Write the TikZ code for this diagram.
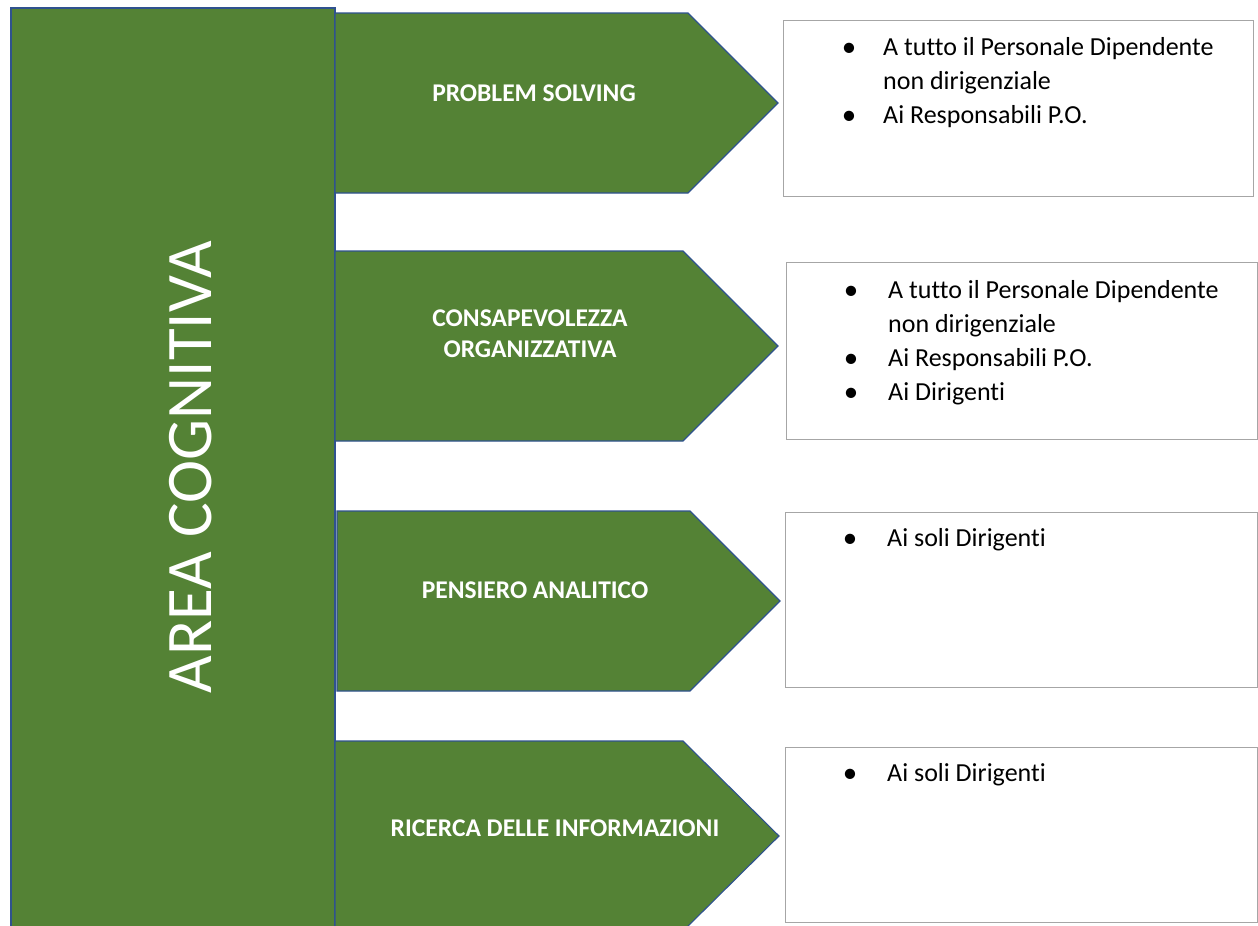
\documentclass[tikz,border=0pt]{standalone}
\usepackage{fontspec}
\setmainfont[Ligatures=NoCommon]{Carlito}
\definecolor{gfill}{HTML}{548235}
\definecolor{bline}{HTML}{2F528F}
\definecolor{gline}{HTML}{A6A6A6}
\begin{document}
\begin{tikzpicture}[x=1pt,y=-1pt,
  arrowshape/.style={fill=gfill, draw=bline, line width=1.1pt, line join=miter},
  listbox/.style={draw=gline, line width=1pt, fill=white, inner sep=0pt, anchor=north west},
  lbl/.style={text=white, font=\fontsize{25.5}{31}\selectfont\bfseries, inner sep=0pt, align=center},
  itm/.style={anchor=base west, inner sep=0pt, font=\fontsize{26}{31}\selectfont},
  dotm/.style={anchor=base, inner sep=0pt, font=\fontsize{29}{31}\selectfont}]
\useasboundingbox (0,0) rectangle (1258,926);
\clip (0,0) rectangle (1258,926);
\fill[white] (0,0) rectangle (1258,926);
% left column
\draw[fill=gfill, draw=bline, line width=1.8pt] (11,8) rectangle (335,945);
\node[rotate=90, text=white, font=\fontsize{65}{70}\selectfont, inner sep=0pt] (area) at (190.5,467.5) {AREA COGNITIVA};
% arrows
\draw[arrowshape] (335,13) -- (688,13) -- (778,103) -- (688,193) -- (335,193) -- cycle;
\draw[arrowshape] (335,251) -- (683,251) -- (778,346) -- (683,441) -- (335,441) -- cycle;
\draw[arrowshape] (337,511) -- (690,511) -- (780,601) -- (690,691) -- (337,691) -- cycle;
\draw[arrowshape] (335,741) -- (683,741) -- (779,836) -- (683,931) -- (335,931) -- cycle;
\node[lbl] (l1) at (534,93) {PROBLEM SOLVING};
\node[lbl] (l2) at (530,334) {CONSAPEVOLEZZA\\ORGANIZZATIVA};
\node[lbl] (l3) at (535,590) {PENSIERO ANALITICO};
\node[lbl] (l4) at (555,828) {RICERCA DELLE INFORMAZIONI};
% boxes
\node[listbox, minimum width=470pt, minimum height=176pt] (b1) at (783,20) {};
\node[listbox, minimum width=471pt, minimum height=177pt] (b2) at (786,262) {};
\node[listbox, minimum width=472pt, minimum height=175pt] (b3) at (785,512) {};
\node[listbox, minimum width=472pt, minimum height=175pt] (b4) at (785,747) {};
% box 1 text
\node[dotm] (d1a) at (849,56) {•};
\node[itm] (t1a) at (883,55) {A tutto il Personale Dipendente};
\node[itm] (t1b) at (883,89) {non dirigenziale};
\node[dotm] (d1c) at (849,124) {•};
\node[itm] (t1c) at (883,123) {Ai Responsabili P.O.};
% box 2 text
\node[dotm] (d2a) at (851,299) {•};
\node[itm] (t2a) at (888,298) {A tutto il Personale Dipendente};
\node[itm] (t2b) at (888,332) {non dirigenziale};
\node[dotm] (d2c) at (851,367) {•};
\node[itm] (t2c) at (888,366) {Ai Responsabili P.O.};
\node[dotm] (d2d) at (851,401) {•};
\node[itm] (t2d) at (888,400) {Ai Dirigenti};
% box 3 text
\node[dotm] (d3a) at (850,547) {•};
\node[itm] (t3a) at (887,546) {Ai soli Dirigenti};
% box 4 text
\node[dotm] (d4a) at (850,782) {•};
\node[itm] (t4a) at (887,781) {Ai soli Dirigenti};
\end{tikzpicture}
\end{document}
